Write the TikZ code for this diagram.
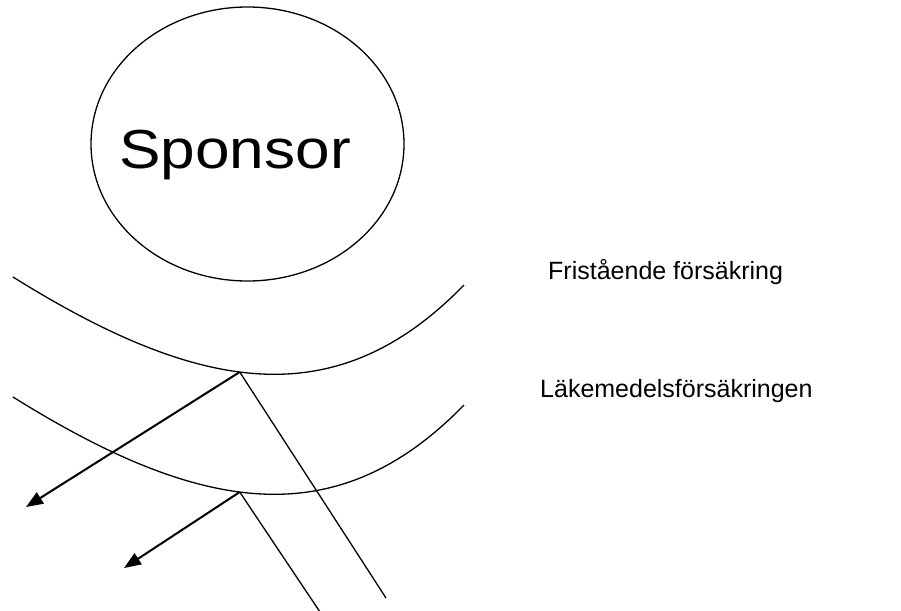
\documentclass[tikz,border=0pt]{standalone}
\usepackage{fontspec}
\setmainfont{Liberation Sans}
\usetikzlibrary{arrows.meta,shapes.geometric}
\begin{document}
\begin{tikzpicture}[x=1pt,y=-1pt,
  thinline/.style={line width=1.3pt},
  arrowline/.style={line width=2pt,-{Triangle[length=17pt,width=13pt]}},
  sidelabel/.style={font=\fontsize{25}{30}\selectfont,anchor=base west,inner sep=0pt}]
\useasboundingbox (0,0) rectangle (901,610);
\node[draw,ellipse,line width=1.3pt,minimum width=313pt,minimum height=274pt,inner sep=0pt] (sp) at (247.5,144) {};
\node[font=\fontsize{55}{60}\selectfont,inner sep=0pt,anchor=base] (spt) at (235,168) {\scalebox{1.13}[1]{Sponsor}};
\node[sidelabel] (fri) at (548,279) {Fristående försäkring};
\node[sidelabel] (lak) at (540,397) {Läkemedelsförsäkringen};
\coordinate (a1l) at (13,277);
\coordinate (a1r) at (464,285);
\coordinate (a2l) at (13,397);
\coordinate (a2r) at (464,405);
\draw[thinline] (a1l) .. controls (202,395) and (337.6,415) .. (a1r) coordinate[pos=0.45] (j1);
\draw[thinline] (a2l) .. controls (202,515) and (337.6,535) .. (a2r) coordinate[pos=0.45] (j2);
\coordinate (t1) at (26,507);
\coordinate (t2) at (124,568);
\coordinate (e1) at (386,598);
\coordinate (e2) at (320,612);
\draw[arrowline] (j1) -- (t1);
\draw[arrowline] (j2) -- (t2);
\draw[thinline] (j1) -- (e1);
\draw[thinline] (j2) -- (e2);
\end{tikzpicture}
\end{document}
